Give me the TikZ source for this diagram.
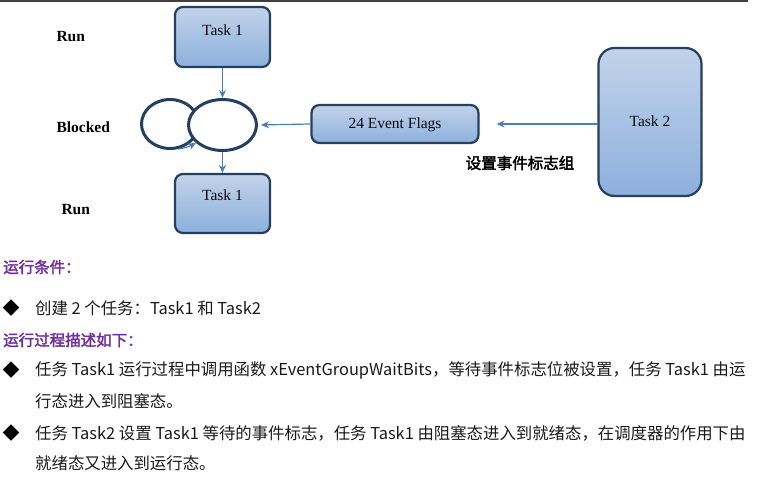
\documentclass[tikz,border=0pt]{standalone}
\usepackage{fontspec}
\setmainfont{Liberation Serif}
\newfontfamily\cjk{Noto Sans CJK SC}[AutoFakeBold=2.5]
\usetikzlibrary{shapes.geometric,arrows.meta}
\definecolor{navy}{HTML}{243F60}
\definecolor{arrowblue}{HTML}{4A7EBB}
\definecolor{boxtop}{HTML}{C2D3EA}
\definecolor{boxbot}{HTML}{8DB0DC}
\definecolor{headpurple}{HTML}{7030A0}
\definecolor{bodytext}{HTML}{1A1A1A}
\tikzset{
  taskbox/.style={draw=navy, line width=2.2pt, rounded corners=8pt, top color=boxtop, bottom color=boxbot, inner sep=0pt},
  boxlabel/.style={font=\fontsize{15.5}{18}\selectfont, text=black!85!navy},
  statelabel/.style={font=\fontsize{15.5}{18}\selectfont\bfseries, anchor=west},
  stateoval/.style={draw=navy, line width=3pt, ellipse, inner sep=0pt, fill=white},
  flow/.style={draw=arrowblue, line width=1.2pt, -{Stealth[length=8pt,width=7pt]}},
  heading/.style={font=\cjk\fontsize{15.5}{18}\selectfont\bfseries, text=headpurple, anchor=west, inner sep=0pt},
  bodyline/.style={font=\cjk\fontsize{16.4}{19}\selectfont, text=bodytext, anchor=west, inner sep=0pt},
  bullet/.style={font=\cjk\fontsize{17}{19}\selectfont, text=black, inner sep=0pt}
}
\begin{document}
\begin{tikzpicture}[x=1pt,y=-1pt]
\useasboundingbox (0,0) rectangle (769,500);
\draw[black!75, line width=1.6pt] (0,0.8) -- (748,0.8);

% state labels
\node[statelabel] (run1) at (53,37) {Run};
\node[statelabel] (blk) at (53,127) {Blocked};
\node[statelabel] (run2) at (58,210) {Run};

% task boxes
\node[taskbox, minimum width=95pt, minimum height=60pt] (t1) at (222.5,37) {};
\node[boxlabel] (t1l) at ([yshift=7pt]t1.center) {Task 1};
\node[taskbox, minimum width=95pt, minimum height=59pt] (t1b) at (222.5,203.5) {};
\node[boxlabel] (t1bl) at ([yshift=8pt]t1b.center) {Task 1};
\node[taskbox, minimum width=167pt, minimum height=38pt] (ef) at (395,124) {};
\node[boxlabel] (efl) at ([yshift=-1pt]ef.center) {24 Event Flags};
\node[taskbox, rounded corners=16pt, minimum width=103pt, minimum height=148pt] (t2) at (650,122) {};
\node[boxlabel] (t2l) at ([yshift=1pt]t2.center) {Task 2};

% blocked ovals
\node[stateoval, minimum width=57pt, minimum height=49pt] (lo) at (170,124) {};
\node[stateoval, minimum width=68pt, minimum height=51pt] (ro) at (222.5,125) {};
\draw[draw=arrowblue, line width=1.2pt, -{Stealth[length=8pt,width=7pt]}] (lo.-72) to[bend right=10] (ro.214);

% connectors
\draw[flow] (t1.south) -- (ro.north);
\draw[flow] (ro.south) -- (t1b.north);
\draw[flow, shorten >=3pt] (ef.west) -- (ro.east);
\draw[flow, shorten >=17pt] (t2.west |- ef.east) -- (ef.east);

\node[font=\cjk\fontsize{15.5}{18}\selectfont\bfseries, text=black] (setlbl) at (520,163) {设置事件标志组};

% text section
\node[heading] (h1) at (3,267) {运行条件：};
\node[bullet] (b1) at (11,308) {◆};
\node[bodyline] (l1) at (35,308) {创建 2 个任务：Task1 和 Task2};
\node[heading] (h2) at (3,340) {运行过程描述如下：};
\node[bullet] (b2) at (11,370) {◆};
\node[bodyline] (l2) at (35,370) {任务 Task1 运行过程中调用函数 xEventGroupWaitBits，等待事件标志位被设置，任务 Task1 由运};
\node[bodyline] (l3) at (35,401) {行态进入到阻塞态。};
\node[bullet] (b3) at (11,433) {◆};
\node[bodyline] (l4) at (35,433) {任务 Task2 设置 Task1 等待的事件标志，任务 Task1 由阻塞态进入到就绪态，在调度器的作用下由};
\node[bodyline] (l5) at (35,463) {就绪态又进入到运行态。};
\end{tikzpicture}
\end{document}
